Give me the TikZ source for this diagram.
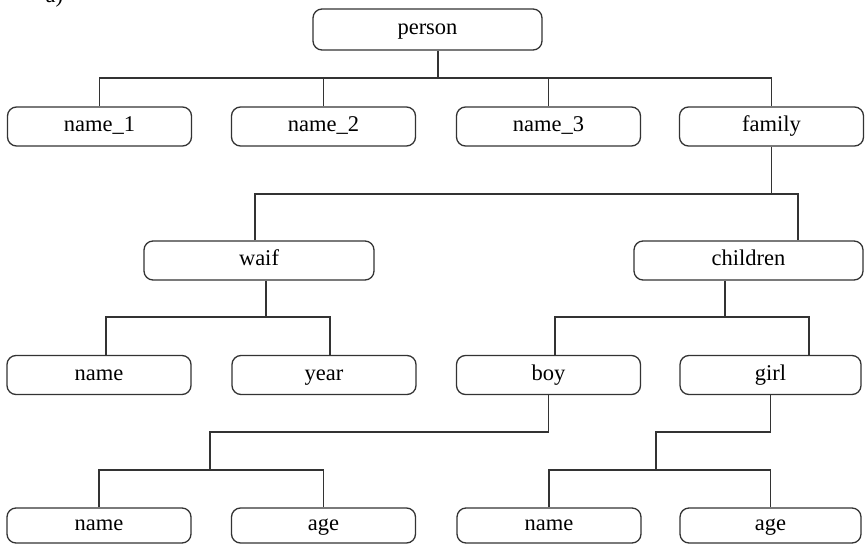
\documentclass[tikz,border=0pt]{standalone}
\usepackage{fontspec}
\setmainfont{Liberation Serif}
\begin{document}
\begin{tikzpicture}[x=1pt,y=-1pt,
  line width=1.3pt, draw={black!80},
  nodebox/.style={draw, rounded corners=9pt, inner sep=0pt,
    minimum height=39pt, text height=15pt, text depth=5pt,
    font=\fontsize{22.5}{27}\selectfont},
  wbox/.style={nodebox, minimum width=184pt},
  lwide/.style={nodebox, minimum width=229pt}]
\useasboundingbox (0,0) rectangle (866,545);
\clip (0,0) rectangle (866,545);

% caption, mostly above the page edge
\node[anchor=base west, inner sep=0pt, font=\fontsize{22.5}{27}\selectfont] (cap) at (45,3) {a)};

% level 0
\node[lwide, minimum width=229pt, minimum height=41pt] (person) at (427.5,29.5) {person};
% level 1
\node[wbox] (n1) at (99.5,126.5) {name\_1};
\node[wbox] (n2) at (323.5,126.5) {name\_2};
\node[wbox] (n3) at (548.5,126.5) {name\_3};
\node[wbox] (family) at (771.5,126.5) {family};
% level 2
\node[lwide, minimum width=230pt] (waif) at (259,260.5) {waif};
\node[lwide, minimum width=229pt] (children) at (748.5,260.5) {children};
% level 3
\node[wbox] (wn) at (99,375) {name};
\node[wbox] (yr) at (324,375) {year};
\node[wbox] (boy) at (548.5,375) {boy};
\node[wbox, minimum width=181pt] (girl) at (770.5,375) {girl};
% level 4
\node[wbox, minimum height=35pt] (bn) at (99,525.5) {name};
\node[wbox, minimum height=35pt] (ba) at (323.5,525.5) {age};
\node[wbox, minimum height=35pt] (gn) at (549,525.5) {name};
\node[wbox, minimum height=35pt, minimum width=181pt] (ga) at (770.5,525.5) {age};

% junction points
\coordinate (b1) at (438,78);
\coordinate (c2a) at (255,194);
\coordinate (c2b) at (798,194);
\coordinate (c3) at (266,317);
\coordinate (c3a) at (106,317);
\coordinate (c3b) at (330,317);
\coordinate (d3) at (725,317);
\coordinate (d3a) at (555,317);
\coordinate (d3b) at (809,317);
\coordinate (e1) at (210,432);
\coordinate (e2) at (210,470);
\coordinate (f1) at (656,432);
\coordinate (f2) at (656,470);

% person -> level 1
\draw (person.south -| b1) -- (b1);
\draw (n1.north) |- (b1) -| (family.north);
\draw (n2.north) -- (n2.north |- b1);
\draw (n3.north) -- (n3.north |- b1);

% family -> waif, children
\draw (family.south) -- (family.south |- c2a);
\draw (waif.north -| c2a) -- (c2a) -- (c2b) -- (children.north -| c2b);

% waif -> name, year
\draw (waif.south -| c3) -- (c3);
\draw (wn.north -| c3a) -- (c3a) -- (c3b) -- (yr.north -| c3b);

% children -> boy, girl
\draw (children.south -| d3) -- (d3);
\draw (boy.north -| d3a) -- (d3a) -- (d3b) -- (girl.north -| d3b);

% boy -> name, age
\draw (boy.south) |- (e1) -- (e2);
\draw (bn.north) |- (e2) -| (ba.north);

% girl -> name, age
\draw (girl.south) |- (f1) -- (f2);
\draw (gn.north) |- (f2) -| (ga.north);
\end{tikzpicture}
\end{document}
